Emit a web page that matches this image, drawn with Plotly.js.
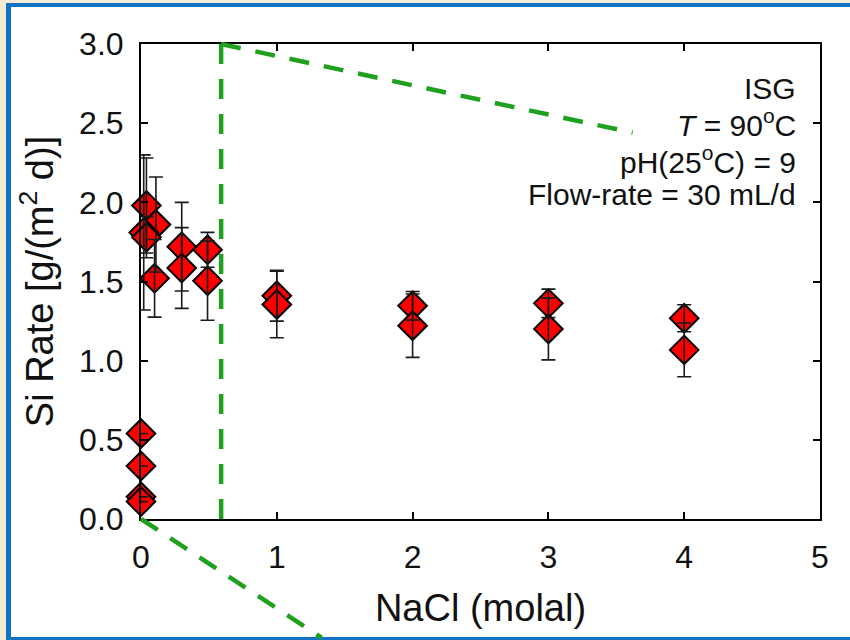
<!DOCTYPE html>
<html>
<head>
<meta charset="utf-8">
<script src="https://cdn.plot.ly/plotly-3.0.1.min.js"></script>
<style>
  html, body { margin: 0; padding: 0; background: #F3EBD6; }
  #wrap { position: relative; width: 850px; height: 640px; overflow: hidden; }
  #frame { position: absolute; left: 6px; top: 3px; right: 0; bottom: 0; background: #ffffff;
           border-left: 5px solid #1272C4; border-top: 4px solid #1272C4; border-bottom: 3px solid #1272C4;
           box-sizing: border-box; }
  #chart { position: absolute; left: 0; top: 0; width: 850px; height: 640px; }
</style>
</head>
<body>
<div id="wrap">
  <div id="frame"></div>
  <div id="chart"></div>
</div>
<script>
// ---- data ----
const nacl = [0, 0, 0, 0, 0.04, 0.11, 0.02, 0.04, 0.10, 0.30, 0.30, 0.49, 0.49, 1, 1, 2, 2, 3, 3, 4, 4];
const siRate = [0.54, 0.335, 0.14, 0.11, 1.98, 1.86, 1.81, 1.78, 1.52, 1.72, 1.585, 1.70, 1.505, 1.41, 1.355, 1.347, 1.221, 1.362, 1.20, 1.268, 1.068];
const siErr = [0, 0, 0, 0, 0.30, 0.30, 0.49, 0.13, 0.245, 0.28, 0.255, 0.11, 0.25, 0.16, 0.21, 0.09, 0.20, 0.09, 0.195, 0.085, 0.17];

const xTicks = [0, 1, 2, 3, 4, 5];
const yTicks = [0, 0.5, 1.0, 1.5, 2.0, 2.5, 3.0];

// zoom-callout guide (data units): vertical line, top diagonal end, bottom diagonal end
const guideX = [0.59, 0.59, 3.62];
const guideY = [0, 3.0, 2.44];
const guideLow = [[0, 0], [1.33, -0.75]];

const noteLines = ['ISG', '<i>T</i> = 90<sup>o</sup>C', 'pH(25<sup>o</sup>C) = 9', 'Flow-rate = 30 mL/d'];
const noteY = [2.72, 2.50, 2.27, 2.05];   // vertical centre of each note line, in data units

// ---- chart ----
const xRange = [0, 5], yRange = [0, 3];
const px = v => (v - xRange[0]) / (xRange[1] - xRange[0]);
const py = v => (v - yRange[0]) / (yRange[1] - yRange[0]);
const font = 'Liberation Sans, Arial, Helvetica, sans-serif';
const green = '#1FA01F';
const dash = '20px,15px';

const traces = [
  {
    x: nacl, y: siRate, type: 'scatter', mode: 'markers', cliponaxis: false,
    marker: { symbol: 'diamond', size: 22, color: '#FF0000', line: { color: '#000000', width: 2 } },
    hoverinfo: 'skip', showlegend: false
  },
  {
    x: nacl, y: siRate, type: 'scatter', mode: 'markers', cliponaxis: false,
    marker: { symbol: 'diamond', size: 22, color: 'rgba(0,0,0,0)', line: { width: 0 } },
    error_y: { type: 'data', array: siErr, visible: true, color: '#1a1a1a', thickness: 1.6, width: 7 },
    hoverinfo: 'skip', showlegend: false
  }
];

const shapes = [
  { type: 'line', xref: 'paper', yref: 'paper', x0: px(guideX[0]), y0: py(guideY[0]), x1: px(guideX[1]), y1: py(guideY[1]),
    line: { color: green, width: 4.5, dash: dash } },
  { type: 'line', xref: 'paper', yref: 'paper', x0: px(guideX[1]), y0: py(guideY[1]), x1: px(guideX[2]), y1: py(guideY[2]),
    line: { color: green, width: 4.5, dash: dash } },
  { type: 'line', xref: 'paper', yref: 'paper', x0: px(guideLow[0][0]), y0: py(guideLow[0][1]), x1: px(guideLow[1][0]), y1: py(guideLow[1][1]),
    line: { color: green, width: 4.5, dash: dash } }
];

const axisCommon = {
  showgrid: false, zeroline: false, showline: true, linecolor: '#000', linewidth: 2,
  mirror: 'ticks', ticks: 'inside', ticklen: 7, tickwidth: 2, tickcolor: '#000',
  tickfont: { family: font, size: 32, color: '#111' }, fixedrange: true
};

const layout = {
  width: 850, height: 640,
  margin: { l: 141, r: 30, t: 44, b: 121, pad: 0 },
  paper_bgcolor: 'rgba(0,0,0,0)', plot_bgcolor: 'rgba(0,0,0,0)',
  font: { family: font, color: '#111' },
  showlegend: false,
  xaxis: Object.assign({}, axisCommon, {
    range: xRange, tickmode: 'array', tickvals: xTicks, ticktext: xTicks.map(String),
    ticklabelstandoff: 9,
    title: { text: 'NaCl (molal)', font: { family: font, size: 38, color: '#111' }, standoff: 20 }
  }),
  yaxis: Object.assign({}, axisCommon, {
    range: yRange, tickmode: 'array', tickvals: yTicks, ticktext: yTicks.map(v => v.toFixed(1)),
    ticklabelstandoff: 9,
    title: { text: 'Si Rate [g/(m<sup>2</sup> d)]', font: { family: font, size: 38, color: '#111' }, standoff: 14 }
  }),
  shapes: shapes,
  annotations: noteLines.map((t, i) => ({
    xref: 'paper', yref: 'paper', x: 0.9676, y: py(noteY[i]), xanchor: 'right', yanchor: 'middle',
    align: 'right', showarrow: false, text: t,
    font: { family: font, size: 30, color: '#111' }
  }))
};

Plotly.newPlot('chart', traces, layout, { staticPlot: true, displayModeBar: false });
</script>
</body>
</html>
